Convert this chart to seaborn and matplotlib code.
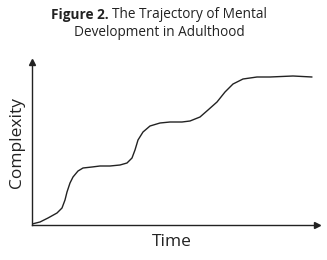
import matplotlib
matplotlib.use("Agg")
import numpy as np
import pandas as pd
import matplotlib.pyplot as plt
import seaborn as sns

# curve (time, complexity), arbitrary units
time = [0, 8, 16, 25, 30, 33, 35, 38, 41, 46, 51, 60, 68, 78, 88, 95,
        100, 103, 106, 111, 118, 128, 138, 150, 158, 168, 176, 185, 193,
        201, 211, 225, 238, 261, 280]
complexity = [1, 3, 7, 12, 17, 25, 33, 42, 48, 54, 57, 58, 59, 59, 60, 62,
              67, 75, 85, 93, 99, 102, 103, 103, 104, 108, 115, 123, 133,
              141, 146, 148, 148, 149, 148]

title_bold = "Figure 2."
title_rest = "The Trajectory of Mental"
title_line2 = "Development in Adulthood"
x_label = "Time"
y_label = "Complexity"

sns.set_style("white")
plt.rcParams['font.family'] = ['Open Sans', 'DejaVu Sans']

df = pd.DataFrame({"time": time, "complexity": complexity})

fig = plt.figure(figsize=(3.27, 2.60), dpi=100)
ax = fig.add_axes([32 / 327, 35 / 260, 285 / 327, 163 / 260])

sns.lineplot(data=df, x="time", y="complexity", ax=ax, color="#222222",
             linewidth=1.0, estimator=None)

ax.set_xlim(0, 285)
ax.set_ylim(0, 163)
ax.set_xticks([])
ax.set_yticks([])
ax.set_xlabel("")
ax.set_ylabel("")
for side in ["top", "right"]:
    ax.spines[side].set_visible(False)
for side in ["left", "bottom"]:
    ax.spines[side].set_color("#222222")
    ax.spines[side].set_linewidth(1.0)

# arrow heads
ax.plot(1, 0, ">", transform=ax.transAxes, color="#222222", markersize=5, clip_on=False)
ax.plot(0, 1, "^", transform=ax.transAxes, color="#222222", markersize=5, clip_on=False)

fig.text(172 / 327, 1 - 242 / 260, x_label, ha="center", va="center", fontsize=12.5, color="#222222")
fig.text(17 / 327, 1 - 142 / 260, y_label, ha="center", va="center", rotation=90,
         fontsize=12.5, color="#222222")

# title: bold prefix + regular rest on the first line
fig.canvas.draw()
r = fig.canvas.get_renderer()
tb = fig.text(0, 1 - 15 / 260, title_bold + " ", fontsize=9.8, fontweight="bold",
              va="center", ha="left", color="#222222")
tr = fig.text(0, 1 - 15 / 260, title_rest, fontsize=9.8, va="center", ha="left", color="#222222")
wb = tb.get_window_extent(r).width
wr = tr.get_window_extent(r).width
total = wb + wr
x0 = 159 - total / 2
tb.set_x(x0 / 327)
tr.set_x((x0 + wb) / 327)
fig.text(159 / 327, 1 - 33 / 260, title_line2, fontsize=9.8, va="center", ha="center", color="#222222")

fig.savefig("out.png", dpi=100)
